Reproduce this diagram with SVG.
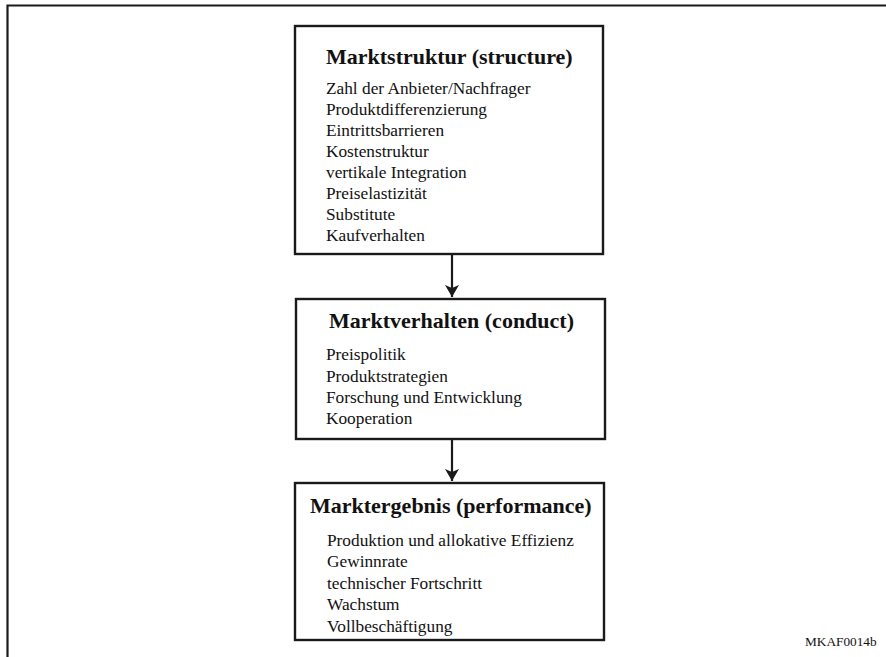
<svg xmlns="http://www.w3.org/2000/svg" width="886" height="657" viewBox="0 0 886 657">
  <style>
    .frame { fill: none; stroke: #1a1a1a; stroke-width: 2.2; }
    .box { fill: #ffffff; stroke: #1a1a1a; stroke-width: 2.4; }
    .title { font-family: "Liberation Serif", "Times New Roman", serif; font-weight: bold; font-size: 22px; fill: #111; }
    .item { font-family: "Liberation Serif", "Times New Roman", serif; font-size: 17.3px; fill: #111; }
    .code { font-family: "Liberation Serif", "Times New Roman", serif; font-size: 13.3px; fill: #111; }
    .link { stroke: #1a1a1a; stroke-width: 2.2; fill: none; }
  </style>
  <defs>
    <marker id="arrow" markerWidth="13" markerHeight="14" refX="12" refY="7" orient="auto" markerUnits="userSpaceOnUse">
      <path d="M0,0 L12,7 L0,14 L3,7 Z" fill="#1a1a1a"/>
    </marker>
  </defs>

  <rect width="886" height="657" fill="#ffffff"/>

  <!-- page frame (top and left edges) -->
  <path class="frame" d="M7.5,657 V5.5 H886"/>

  <!-- connectors -->
  <g id="connectors">
    <line class="link" x1="452" y1="254" x2="452" y2="297" marker-end="url(#arrow)"/>
    <line class="link" x1="452" y1="440" x2="452" y2="481" marker-end="url(#arrow)"/>
  </g>

  <g id="structure">
    <rect class="box" x="295" y="26" width="308" height="228"/>
    <text class="title" x="326" y="64">Marktstruktur (structure)</text>
    <text class="item" x="326" y="94">Zahl der Anbieter/Nachfrager</text>
    <text class="item" x="326" y="115">Produktdifferenzierung</text>
    <text class="item" x="326" y="136">Eintrittsbarrieren</text>
    <text class="item" x="326" y="157">Kostenstruktur</text>
    <text class="item" x="326" y="178">vertikale Integration</text>
    <text class="item" x="326" y="199">Preiselastizität</text>
    <text class="item" x="326" y="220">Substitute</text>
    <text class="item" x="326" y="241">Kaufverhalten</text>
  </g>

  <g id="conduct">
    <rect class="box" x="296" y="299" width="309" height="140"/>
    <text class="title" x="329" y="328">Marktverhalten (conduct)</text>
    <text class="item" x="326" y="360">Preispolitik</text>
    <text class="item" x="326" y="382">Produktstrategien</text>
    <text class="item" x="326" y="403">Forschung und Entwicklung</text>
    <text class="item" x="326" y="424">Kooperation</text>
  </g>

  <g id="performance">
    <rect class="box" x="295" y="483" width="309" height="157"/>
    <text class="title" x="310" y="513">Marktergebnis (performance)</text>
    <text class="item" x="327" y="546">Produktion und allokative Effizienz</text>
    <text class="item" x="327" y="567">Gewinnrate</text>
    <text class="item" x="327" y="589">technischer Fortschritt</text>
    <text class="item" x="327" y="610">Wachstum</text>
    <text class="item" x="327" y="632">Vollbeschäftigung</text>
  </g>

  <text class="code" x="805" y="646">MKAF0014b</text>
</svg>
